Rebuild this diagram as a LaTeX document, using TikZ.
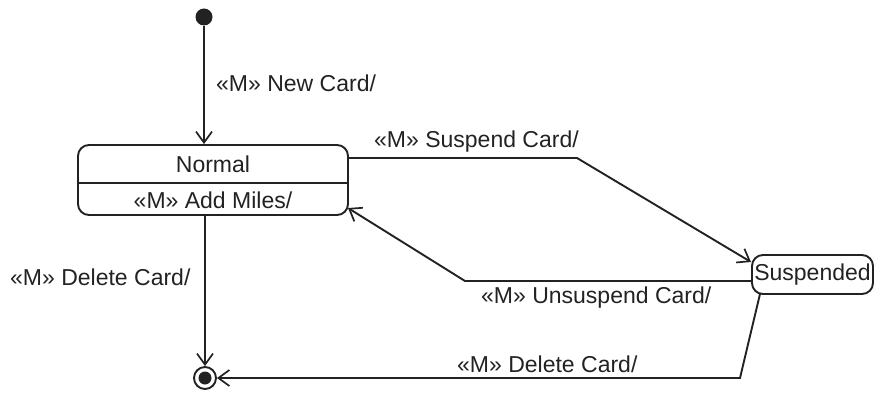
\documentclass[tikz,border=0pt]{standalone}
\usepackage{fontspec}
\setmainfont{Liberation Sans}
\usetikzlibrary{arrows.meta}
\definecolor{ink}{HTML}{222222}
\tikzset{
  conn/.style={draw=ink, line width=1.9pt, -{Straight Barb[length=11pt,width=16pt,line width=1.7pt]}},
  plain/.style={draw=ink, line width=1.9pt},
  statebox/.style={draw=ink, line width=1.9pt, rounded corners=11pt, inner sep=0pt},
  txt/.style={font=\fontsize{23}{25}\selectfont, text=ink, inner sep=0pt},
  lbl/.style={txt, anchor=west}
}
\begin{document}
\begin{tikzpicture}[x=1pt,y=-1pt]
\useasboundingbox (0,0) rectangle (875,393);
% initial
\node[circle, fill=ink, minimum size=17pt, inner sep=0pt] (init) at (204,17) {};
% Normal state
\node[statebox, minimum width=270pt, minimum height=70pt] (normal) at (213,180) {};
\draw[plain] (normal.west |- 0,183) -- (normal.east |- 0,183);
\node[txt] (ntitle) at (213,164) {Normal};
\node[txt] (nact) at (213,200) {«M» Add Miles/};
% Suspended state
\node[statebox, txt, minimum width=121pt, minimum height=39pt] (susp) at (812.5,274.5) {Suspended};
% final
\node[circle, draw=ink, line width=1.9pt, minimum size=22pt, inner sep=0pt] (final) at (205,378) {};
\node[circle, fill=ink, minimum size=13pt, inner sep=0pt] (finalin) at (205,378) {};
% coordinates
\coordinate (sbend) at (577,158);
\coordinate (stip) at (751,262);
\coordinate (ubend) at (465,281);
\coordinate (utip) at (348,208);
\coordinate (dbend) at (740,378);
% connectors
\draw[conn] (init) -- (init |- normal.north);
\draw[conn] (normal.east |- sbend) -- (sbend) -- (stip);
\draw[conn] (susp.west |- ubend) -- (ubend) -- (utip);
\draw[conn] (205,215) -- (final.north);
\draw[conn] (760,294) -- (dbend) -- (final.east);
% labels
\node[lbl] (l1) at (216,83) {«M» New Card/};
\node[lbl] (l2) at (374,142) {«M» Suspend Card/};
\node[lbl] (l3) at (10,277) {«M» Delete Card/};
\node[lbl] (l4) at (481,298) {«M» Unsuspend Card/};
\node[lbl] (l5) at (457,364) {«M» Delete Card/};
\end{tikzpicture}
\end{document}
